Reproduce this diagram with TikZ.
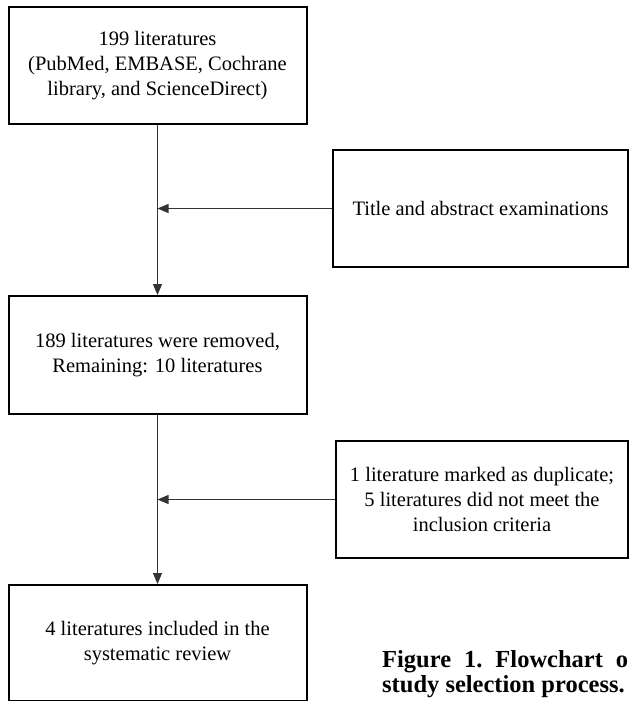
\documentclass[tikz,border=0pt]{standalone}
\usepackage{fontspec}
\setmainfont{Liberation Serif}
\usetikzlibrary{arrows.meta}
\begin{document}
\begin{tikzpicture}[x=1pt,y=-1pt,
  box/.style={draw=black,line width=2pt,align=center,inner sep=0pt,
    font=\fontsize{20.5}{25}\selectfont},
  conn/.style={draw=black!80,line width=1.2pt},
  arr/.style={conn,-{Triangle[length=11pt,width=9pt]}},
  captxt/.style={anchor=base west,align=left,inner sep=0pt,
    font=\fontsize{24.5}{25}\selectfont\bfseries}]
\useasboundingbox (0,0) rectangle (630,701);
\node[box,minimum width=298pt,minimum height=117pt] (b1) at (157.5,65.5)
  {199 literatures\\(PubMed, EMBASE, Cochrane\\library, and ScienceDirect)};
\node[box,minimum width=295pt,minimum height=117pt] (b2) at (480.5,208.5)
  {Title and abstract examinations};
\node[box,minimum width=298pt,minimum height=118pt] (b3) at (157.5,355)
  {189 literatures were removed,\\Remaining: 10 literatures};
\node[box,minimum width=292pt,minimum height=117pt] (b4) at (482,499.5)
  {1 literature marked as duplicate;\\5 literatures did not meet the\\inclusion criteria};
\node[box,minimum width=298pt,minimum height=116pt] (b5) at (157.5,643)
  {4 literatures included in the\\systematic review};
\node[captxt] (cap) at (382,692)
  {\makebox[246pt]{Figure\hfill 1.\hfill Flowchart\hfill o}\\study selection process.};
\draw[arr] (b1.south) -- (b3.north);
\draw[arr] (b3.south) -- (b5.north);
\draw[arr] (b2.west) -- (b2.west -| b1.south);
\draw[arr] (b4.west) -- (b4.west -| b3.south);
\end{tikzpicture}
\end{document}
